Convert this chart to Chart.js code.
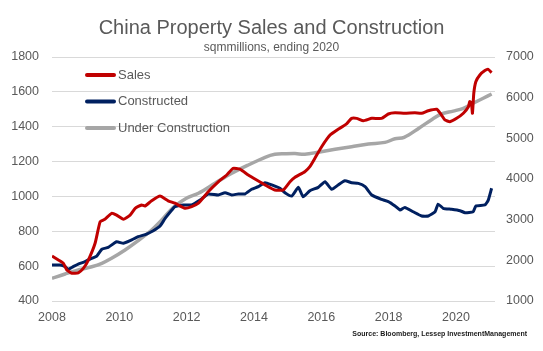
<!DOCTYPE html>
<html>
<head>
<meta charset="utf-8">
<script src="https://cdn.jsdelivr.net/npm/chart.js@4"></script>
<style>
  html, body { margin: 0; padding: 0; background: #fff; }
  #wrap { width: 543px; height: 351px; }
</style>
</head>
<body>
<div id="wrap"><canvas id="chart" width="543" height="351"></canvas></div>
<script>
// Ventas (eje izquierdo, sqm millones)
const salesYears = [2008.00, 2008.19, 2008.34, 2008.44, 2008.59, 2008.78, 2008.93, 2009.08, 2009.28, 2009.43,
  2009.57, 2009.77, 2009.92, 2010.12, 2010.32, 2010.47, 2010.66, 2010.76, 2010.96, 2011.21,
  2011.45, 2011.65, 2011.95, 2012.15, 2012.35, 2012.64, 2012.94, 2013.19, 2013.38, 2013.58,
  2013.83, 2014.08, 2014.33, 2014.62, 2014.87, 2015.07, 2015.22, 2015.51, 2015.66, 2015.81,
  2016.01, 2016.26, 2016.50, 2016.75, 2016.90, 2017.05, 2017.25, 2017.50, 2017.79, 2017.99,
  2018.19, 2018.48, 2018.78, 2018.98, 2019.18, 2019.43, 2019.57, 2019.67, 2019.82, 2020.02,
  2020.22, 2020.37, 2020.41, 2020.46, 2020.49, 2020.53, 2020.59, 2020.71, 2020.86, 2020.96,
  2021.06];
const salesValues = [658, 635, 616, 578, 559, 562, 587, 635, 731, 855,
  869, 903, 893, 869, 893, 932, 951, 945, 975, 1002,
  975, 961, 932, 941, 961, 1027, 1084, 1123, 1161, 1156,
  1123, 1094, 1066, 1037, 1037, 1084, 1110, 1142, 1171, 1219,
  1285, 1352, 1385, 1416, 1448, 1448, 1434, 1448, 1448, 1473,
  1480, 1477, 1480, 1477, 1492, 1500, 1467, 1439, 1429, 1448,
  1477, 1515, 1544, 1534, 1477, 1592, 1658, 1697, 1722, 1729,
  1710];

// Construido (eje izquierdo)
const builtYears = [2008.00, 2008.24, 2008.39, 2008.48, 2008.63, 2008.78, 2008.98, 2009.18, 2009.33, 2009.48,
  2009.67, 2009.92, 2010.12, 2010.32, 2010.56, 2010.81, 2011.01, 2011.21, 2011.36, 2011.56,
  2011.65, 2011.90, 2012.15, 2012.40, 2012.64, 2012.94, 2013.14, 2013.34, 2013.53, 2013.73,
  2013.93, 2014.13, 2014.33, 2014.53, 2014.77, 2014.92, 2015.12, 2015.32, 2015.46, 2015.66,
  2015.91, 2016.11, 2016.31, 2016.50, 2016.70, 2016.90, 2017.10, 2017.30, 2017.50, 2017.79,
  2017.99, 2018.19, 2018.34, 2018.48, 2018.73, 2018.98, 2019.18, 2019.38, 2019.47, 2019.62,
  2019.87, 2020.12, 2020.27, 2020.51, 2020.59, 2020.86, 2020.96, 2021.06];
const builtValues = [606, 606, 597, 582, 597, 612, 626, 645, 658, 697,
  708, 740, 731, 746, 769, 784, 803, 830, 874, 922,
  941, 951, 951, 979, 1014, 1008, 1021, 1008, 1014, 1014,
  1041, 1056, 1079, 1066, 1047, 1021, 1002, 1052, 998, 1033,
  1052, 1084, 1041, 1066, 1090, 1079, 1075, 1056, 1008, 983,
  970, 945, 922, 937, 912, 888, 888, 912, 956, 932,
  926, 918, 907, 912, 945, 951, 979, 1047];

// En construcción (eje derecho)
const underYears = [2008.00, 2008.39, 2008.78, 2009.18, 2009.48, 2009.77, 2010.17, 2010.56, 2010.96, 2011.26,
  2011.60, 2011.98, 2012.35, 2012.84, 2013.34, 2013.83, 2014.33, 2014.62, 2014.92, 2015.22,
  2015.51, 2015.91, 2016.41, 2016.90, 2017.40, 2017.89, 2018.19, 2018.46, 2018.90, 2019.30,
  2019.57, 2019.92, 2020.22, 2020.51, 2020.81, 2021.06];
const underValues = [1558, 1664, 1762, 1843, 1927, 2050, 2254, 2483, 2746, 2992,
  3300, 3520, 3650, 3894, 4140, 4344, 4534, 4607, 4620, 4625,
  4610, 4660, 4730, 4795, 4861, 4900, 4990, 5025, 5250, 5470,
  5600, 5670, 5739, 5862, 5985, 6090];

const xTicks = [2008, 2010, 2012, 2014, 2016, 2018, 2020];

const toPoints = (xs, ys) => xs.map((x, i) => ({ x: x, y: ys[i] }));

Chart.defaults.font.family = '"Liberation Sans", Arial, sans-serif';
Chart.defaults.color = '#595959';

// Leyenda dentro del área y texto de la fuente
const overlayText = {
  id: 'overlayText',
  afterDraw(chart) {
    const ctx = chart.ctx;
    const area = chart.chartArea;
    ctx.save();
    ctx.textBaseline = 'middle';
    ctx.font = '13px "Liberation Sans", Arial, sans-serif';
    chart.data.datasets.forEach((ds, i) => {
      const y = area.top + 18 + i * 26.5;
      ctx.strokeStyle = ds.borderColor;
      ctx.lineWidth = 4;
      ctx.lineCap = 'round';
      ctx.beginPath();
      ctx.moveTo(area.left + 35, y);
      ctx.lineTo(area.left + 62, y);
      ctx.stroke();
      ctx.fillStyle = '#595959';
      ctx.fillText(ds.label, area.left + 66, y);
    });
    ctx.font = 'bold 7px "Liberation Sans", Arial, sans-serif';
    ctx.fillStyle = '#1a1a1a';
    ctx.textAlign = 'right';
    ctx.fillText('Source: Bloomberg, Lessep InvestmentManagement', 527, 334);
    ctx.restore();
  }
};

const chart = new Chart(document.getElementById('chart'), {
  type: 'line',
  data: {
    datasets: [
      {
        label: 'Sales',
        data: toPoints(salesYears, salesValues),
        borderColor: '#C00000',
        borderWidth: 3,
        pointRadius: 0,
        tension: 0.15,
        yAxisID: 'y',
        order: 1
      },
      {
        label: 'Constructed',
        data: toPoints(builtYears, builtValues),
        borderColor: '#002060',
        borderWidth: 3,
        pointRadius: 0,
        tension: 0.15,
        yAxisID: 'y',
        order: 2
      },
      {
        label: 'Under Construction',
        data: toPoints(underYears, underValues),
        borderColor: '#A6A6A6',
        borderWidth: 3.5,
        pointRadius: 0,
        tension: 0.35,
        yAxisID: 'y1',
        order: 3
      }
    ]
  },
  options: {
    responsive: false,
    animation: false,
    layout: { padding: 0 },
    plugins: {
      legend: { display: false },
      tooltip: { enabled: false },
      title: {
        display: true,
        text: 'China Property Sales and Construction',
        font: { size: 20, weight: 'normal' },
        color: '#595959',
        padding: { top: 16, bottom: 0 }
      },
      subtitle: {
        display: true,
        text: 'sqmmillions, ending 2020',
        font: { size: 12 },
        color: '#595959',
        padding: { top: 0, bottom: 2.6 }
      }
    },
    scales: {
      x: {
        type: 'linear',
        min: 2008,
        max: 2021.16,
        grid: { display: false, drawTicks: false },
        border: { display: false },
        afterBuildTicks: s => { s.ticks = xTicks.map(v => ({ value: v })); },
        afterFit: s => { s.height = 50; },
        ticks: {
          callback: v => String(v),
          font: { size: 12.5 },
          color: '#595959',
          padding: 9,
          maxRotation: 0
        }
      },
      y: {
        position: 'left',
        min: 400,
        max: 1800,
        grid: { color: '#D9D9D9', lineWidth: 1, drawTicks: false },
        border: { display: false },
        afterFit: s => { s.width = 52; },
        ticks: {
          stepSize: 200,
          callback: v => String(v),
          font: { size: 12.5 },
          color: '#595959',
          padding: 13
        }
      },
      y1: {
        position: 'right',
        min: 1000,
        max: 7000,
        grid: { display: false, drawTicks: false },
        border: { display: false },
        afterFit: s => { s.width = 48; },
        ticks: {
          stepSize: 1000,
          callback: v => String(v),
          font: { size: 12.5 },
          color: '#595959',
          padding: 11
        }
      }
    }
  },
  plugins: [overlayText]
});
</script>
</body>
</html>
